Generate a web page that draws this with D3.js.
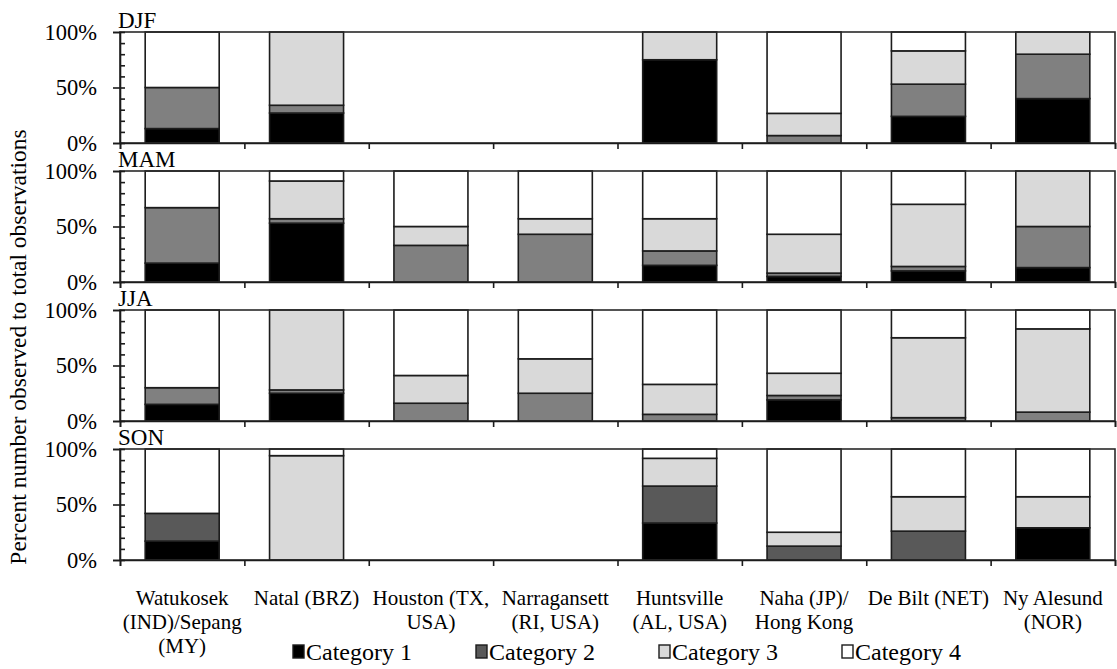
<!DOCTYPE html>
<html>
<head>
<meta charset="utf-8">
<script src="https://cdn.jsdelivr.net/npm/d3@7"></script>
<style>
  html, body { margin: 0; padding: 0; background: #fff; }
  svg { display: block; }
</style>
</head>
<body>
<svg id="chart" width="1117" height="669"></svg>
<script>
// Stations (x categories) and their wrapped label lines
const stations = ["Watukosek", "Natal", "Houston", "Narragansett", "Huntsville", "Naha", "De Bilt", "Ny Alesund"];
const stationLabels = [
  ["Watukosek", "(IND)/Sepang", "(MY)"],
  ["Natal (BRZ)"],
  ["Houston (TX,", "USA)"],
  ["Narragansett", "(RI, USA)"],
  ["Huntsville", "(AL, USA)"],
  ["Naha (JP)/", "Hong Kong"],
  ["De Bilt (NET)"],
  ["Ny Alesund", "(NOR)"]
];
const seasons = ["DJF", "MAM", "JJA", "SON"];
const categories = ["Category 1", "Category 2", "Category 3", "Category 4"];
const yTicks = [0, 50, 100];

// Percent of observations per category (rows) and station (columns)
const djf = [
  [13, 27, 0, 0, 75, 0, 24, 40],
  [37, 7, 0, 0, 0, 6.7, 29, 40],
  [0, 66, 0, 0, 25, 20, 30, 20],
  [50, 0, 0, 0, 0, 73.3, 17, 0]
];
const mam = [
  [17, 53, 0, 0, 15, 5, 10, 13],
  [50, 4, 33, 43, 13, 3, 4, 37],
  [0, 34, 17, 14, 29, 35, 56, 50],
  [33, 9, 50, 43, 43, 57, 30, 0]
];
const jja = [
  [15, 25, 0, 0, 0, 19, 0, 0],
  [15, 3, 16, 25, 6, 4, 3, 8],
  [0, 72, 25, 31, 27, 20, 72, 75],
  [70, 0, 59, 44, 67, 57, 25, 17]
];
const son = [
  [17, 0, 0, 0, 33.3, 0, 0, 29],
  [25, 0, 0, 0, 33.3, 12.5, 26, 0],
  [0, 94, 0, 0, 25, 12.5, 31, 28],
  [58, 6, 0, 0, 8.4, 75, 43, 43]
];
const seasonData = [djf, mam, jja, son];

const fills = ["#000000", "#808080", "#d9d9d9", "#ffffff"];
const fillsSON = ["#000000", "#595959", "#d9d9d9", "#ffffff"];
const edge = "#1c1c1c";
const FONT = "'Liberation Serif', 'Times New Roman', Times, 'DejaVu Serif', 'Noto Serif', serif";

const svg = d3.select("#chart");
const left = 120, right = 1115;
const panelTop = 32, panelH = 111, panelStep = 139;

const x = d3.scaleBand().domain(stations).range([left, right])
  .paddingInner(0.405).paddingOuter(0.2025);
const xEdge = d3.scaleLinear().domain([0, stations.length]).range([left, right]);

function serif(sel, size) {
  return sel.style("font-family", FONT).style("font-size", size + "px").attr("fill", "#000");
}

seasons.forEach((season, si) => {
  const top = panelTop + si * panelStep;
  const bottom = top + panelH;
  const y = d3.scaleLinear().domain([0, 100]).range([bottom, top]);
  const g = svg.append("g");
  const colors = si === 3 ? fillsSON : fills;
  const data = seasonData[si];

  // stacked segments
  const rows = stations.map((s, i) => {
    const r = { station: s };
    categories.forEach((c, ci) => { r[c] = data[ci][i]; });
    return r;
  });
  const stack = d3.stack().keys(categories)(rows);
  stack.forEach((layer, ci) => {
    g.selectAll(null)
      .data(layer.filter(d => d[1] - d[0] > 0))
      .join("rect")
      .attr("x", d => x(d.data.station))
      .attr("width", x.bandwidth())
      .attr("y", d => y(d[1]))
      .attr("height", d => y(d[0]) - y(d[1]))
      .attr("fill", colors[ci])
      .attr("stroke", edge)
      .attr("stroke-width", 1.6);
  });

  // plot frame
  g.append("rect")
    .attr("x", left).attr("y", top)
    .attr("width", right - left).attr("height", panelH)
    .attr("fill", "none").attr("stroke", "#2a2a2a").attr("stroke-width", 1.6);

  // minor ticks on the inside
  const minor = g.append("g").attr("transform", `translate(${left},0)`)
    .call(d3.axisRight(y).tickValues(d3.range(0, 101, 10)).tickSize(5).tickFormat(""));
  minor.select(".domain").remove();
  minor.selectAll("line").attr("stroke", "#1c1c1c").attr("stroke-width", 1.6);

  // major ticks + labels
  const yAx = g.append("g").attr("transform", `translate(${left},0)`)
    .call(d3.axisLeft(y).tickValues(yTicks).tickSize(7).tickPadding(16).tickFormat(d => d + "%"));
  yAx.attr("font-family", null).attr("font-size", null);
  yAx.select(".domain").attr("stroke", "#1c1c1c").attr("stroke-width", 1.6);
  yAx.selectAll("line").attr("stroke", "#1c1c1c").attr("stroke-width", 1.6);
  serif(yAx.selectAll("text"), 22.5);

  // category boundary ticks
  const xAx = g.append("g").attr("transform", `translate(0,${bottom})`)
    .call(d3.axisBottom(xEdge).tickValues(d3.range(0, stations.length + 1)).tickSize(6).tickFormat(""));
  xAx.select(".domain").attr("stroke", "#1c1c1c").attr("stroke-width", 1.6);
  xAx.selectAll("line").attr("stroke", "#1c1c1c").attr("stroke-width", 1.6);

  // season title
  serif(g.append("text"), 23)
    .attr("x", left - 2).attr("y", top - 4)
    .text(season);

  // station labels under the last panel
  if (si === seasons.length - 1) {
    stations.forEach((s, i) => {
      const cx = x(s) + x.bandwidth() / 2;
      const t = serif(g.append("text"), 21)
        .attr("text-anchor", "middle")
        .attr("x", cx)
        .attr("y", bottom + 45);
      stationLabels[i].forEach((line, li) => {
        t.append("tspan")
          .attr("x", cx)
          .attr("dy", li === 0 ? 0 : 24)
          .text(line);
      });
    });
  }
});

// y-axis title
serif(svg.append("text"), 23.5)
  .attr("transform", "translate(18,347) rotate(-90)")
  .attr("text-anchor", "middle")
  .attr("dominant-baseline", "central")
  .text("Percent number observed to total observations");

// legend
const legendColors = ["#000000", "#595959", "#d9d9d9", "#ffffff"];
const legend = svg.append("g").attr("transform", "translate(293,660)");
categories.forEach((c, i) => {
  const item = legend.append("g").attr("transform", `translate(${i * 183},0)`);
  item.append("rect")
    .attr("x", 0).attr("y", -15).attr("width", 11).attr("height", 13)
    .attr("fill", legendColors[i]).attr("stroke", edge).attr("stroke-width", 1.4);
  serif(item.append("text"), 24)
    .attr("x", 13).attr("y", 0)
    .text(c);
});
</script>
</body>
</html>
